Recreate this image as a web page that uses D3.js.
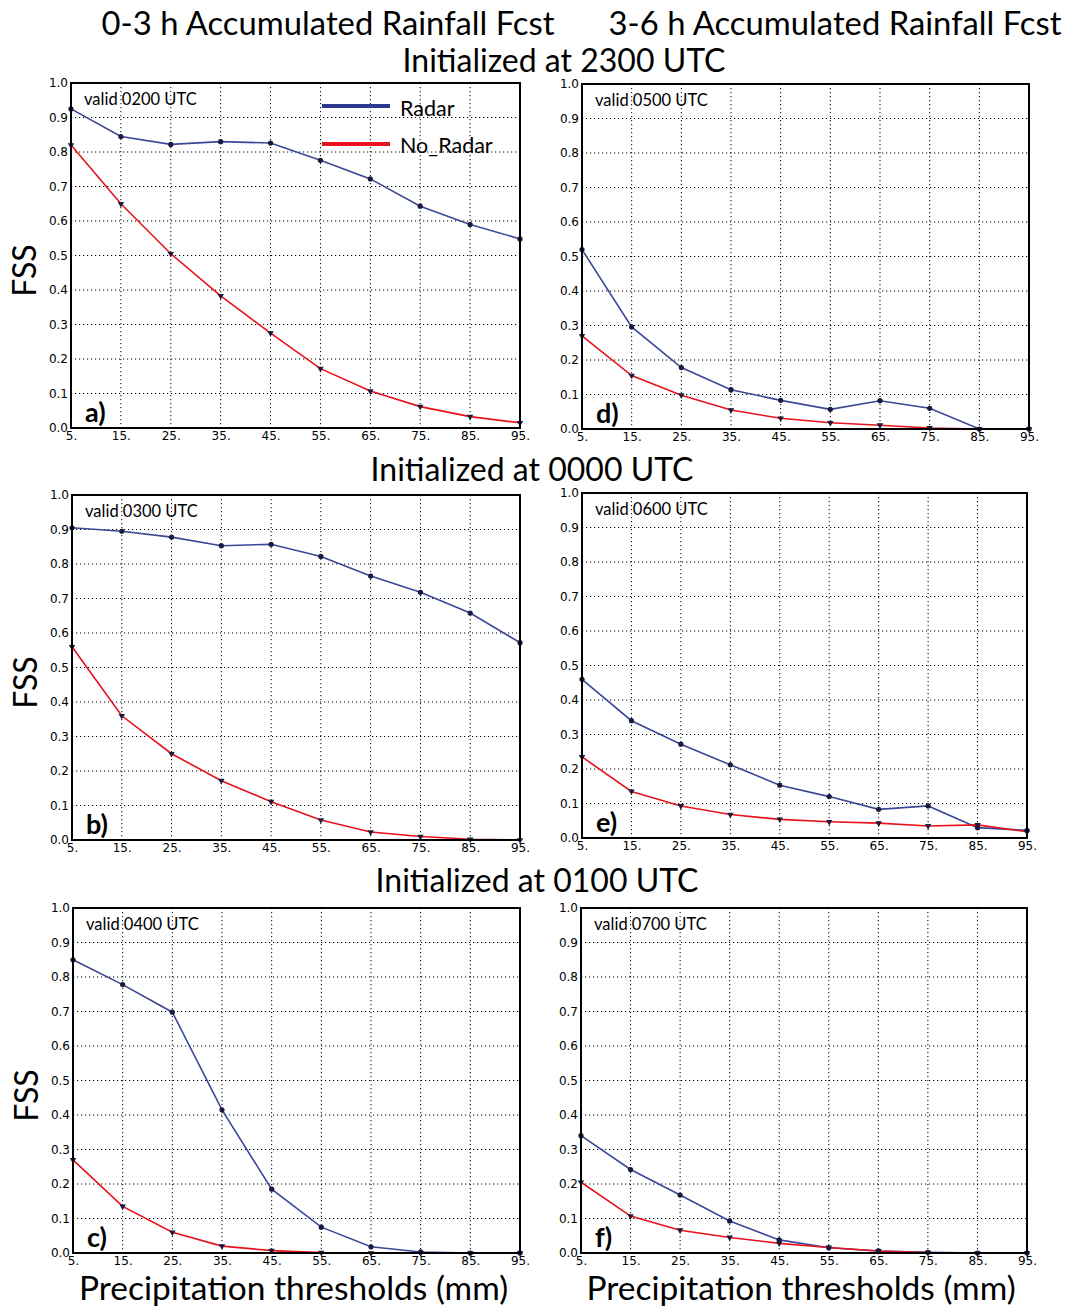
<!DOCTYPE html>
<html>
<head>
<meta charset="utf-8">
<script src="https://cdn.jsdelivr.net/npm/d3@7"></script>
<style>
  body { margin: 0; background: #fff; }
  text { font-family: Lato, "Open Sans", sans-serif; }
  .tick text { font-family: "DejaVu Sans", sans-serif; }
</style>
</head>
<body>
<script>
// thresholds (mm) and tick labels
const thresholds = [5, 15, 25, 35, 45, 55, 65, 75, 85, 95];
const xTickLabels = ["5.", "15.", "25.", "35.", "45.", "55.", "65.", "75.", "85.", "95."];
const yTicks = [0, 0.1, 0.2, 0.3, 0.4, 0.5, 0.6, 0.7, 0.8, 0.9, 1.0];

// FSS values
const radarA   = [0.925, 0.845, 0.822, 0.830, 0.826, 0.776, 0.722, 0.643, 0.590, 0.548];
const noRadarA = [0.820, 0.650, 0.505, 0.383, 0.275, 0.172, 0.107, 0.062, 0.033, 0.015];
const radarB   = [0.905, 0.895, 0.878, 0.853, 0.857, 0.822, 0.765, 0.718, 0.658, 0.572];
const noRadarB = [0.560, 0.360, 0.250, 0.172, 0.111, 0.058, 0.023, 0.010, 0.002, 0.000];
const radarC   = [0.850, 0.778, 0.698, 0.415, 0.185, 0.075, 0.018, 0.003, 0.000, 0.000];
const noRadarC = [0.270, 0.135, 0.060, 0.020, 0.007, 0.001, 0.000, 0.000, 0.000, 0.000];
const radarD   = [0.520, 0.296, 0.178, 0.114, 0.083, 0.057, 0.082, 0.060, 0.000, 0.000];
const noRadarD = [0.270, 0.155, 0.098, 0.055, 0.031, 0.018, 0.011, 0.003, 0.000, 0.000];
const radarE   = [0.460, 0.340, 0.272, 0.212, 0.153, 0.120, 0.083, 0.093, 0.030, 0.022];
const noRadarE = [0.235, 0.135, 0.093, 0.068, 0.054, 0.047, 0.043, 0.035, 0.038, 0.018];
const radarF   = [0.340, 0.242, 0.168, 0.093, 0.038, 0.015, 0.006, 0.002, 0.000, 0.000];
const noRadarF = [0.205, 0.107, 0.066, 0.045, 0.028, 0.016, 0.006, 0.001, 0.000, 0.000];

const radarColor = '#3a4898';
const noRadarColor = '#e8121c';
const markerColor = '#1a1a3c';

const svg = d3.select("body").append("svg")
  .attr("width", 1066)
  .attr("height", 1310);

// column / row headings
svg.append('text').text('0-3 h Accumulated Rainfall Fcst').attr('x', 328).attr('y', 35)
  .attr('font-size', 32.8).attr('text-anchor', 'middle');
svg.append('text').text('3-6 h Accumulated Rainfall Fcst').attr('x', 835).attr('y', 35)
  .attr('font-size', 32.8).attr('text-anchor', 'middle');
svg.append('text').text('Initialized at 2300 UTC').attr('x', 564).attr('y', 72)
  .attr('font-size', 32).attr('text-anchor', 'middle');
svg.append('text').text('Initialized at 0000 UTC').attr('x', 532).attr('y', 481)
  .attr('font-size', 32).attr('text-anchor', 'middle');
svg.append('text').text('Initialized at 0100 UTC').attr('x', 537).attr('y', 892)
  .attr('font-size', 32).attr('text-anchor', 'middle');

const panels = [
  {x: 71,  y: 83,  w: 449, h: 345, radar: radarA, noRadar: noRadarA, valid: 'valid 0200 UTC', label: 'a)', fss: true,  legend: true},
  {x: 582, y: 84,  w: 447, h: 345, radar: radarD, noRadar: noRadarD, valid: 'valid 0500 UTC', label: 'd)'},
  {x: 72,  y: 495, w: 448, h: 345, radar: radarB, noRadar: noRadarB, valid: 'valid 0300 UTC', label: 'b)', fss: true},
  {x: 582, y: 493, w: 445, h: 345, radar: radarE, noRadar: noRadarE, valid: 'valid 0600 UTC', label: 'e)'},
  {x: 73,  y: 908, w: 447, h: 345, radar: radarC, noRadar: noRadarC, valid: 'valid 0400 UTC', label: 'c)', fss: true, xlab: true},
  {x: 581, y: 908, w: 446, h: 345, radar: radarF, noRadar: noRadarF, valid: 'valid 0700 UTC', label: 'f)', xlab: true}
];

panels.forEach(drawPanel);

function drawPanel(p) {
  const g = svg.append('g').attr('transform', 'translate(' + p.x + ',' + p.y + ')');
  const x = d3.scaleLinear().domain([5, 95]).range([0, p.w]);
  const y = d3.scaleLinear().domain([0, 1]).range([p.h, 0]);

  // dotted grid
  g.append('g').selectAll('line.vg').data(thresholds.slice(1, -1)).join('line')
    .attr('x1', d => x(d)).attr('x2', d => x(d)).attr('y1', 0).attr('y2', p.h)
    .attr('stroke', '#000').attr('stroke-width', 1).attr('stroke-dasharray', '1.2,2.8');
  g.append('g').selectAll('line.hg').data(yTicks.slice(1, -1)).join('line')
    .attr('x1', 0).attr('x2', p.w).attr('y1', d => y(d)).attr('y2', d => y(d))
    .attr('stroke', '#000').attr('stroke-width', 1).attr('stroke-dasharray', '1.2,2.8');

  // axes
  const xAxis = d3.axisBottom(x).tickValues(thresholds)
    .tickFormat((d, i) => xTickLabels[i]).tickSize(0).tickPadding(3);
  g.append('g').attr('transform', 'translate(0,' + p.h + ')').call(xAxis)
    .call(a => a.select('.domain').remove())
    .selectAll('text').attr('font-size', 12).attr('fill', '#000');
  const yAxis = d3.axisLeft(y).tickValues(yTicks).tickFormat(d3.format('.1f'))
    .tickSize(0).tickPadding(3);
  g.append('g').call(yAxis)
    .call(a => a.select('.domain').remove())
    .selectAll('text').attr('font-size', 12).attr('fill', '#000');

  // lines
  const line = d3.line().x((d, i) => x(thresholds[i])).y(d => y(d));
  g.append('path').datum(p.radar).attr('d', line)
    .attr('fill', 'none').attr('stroke', radarColor).attr('stroke-width', 1.6);
  g.append('path').datum(p.noRadar).attr('d', line)
    .attr('fill', 'none').attr('stroke', noRadarColor).attr('stroke-width', 1.6);

  // markers
  g.append('g').selectAll('circle').data(p.radar).join('circle')
    .attr('cx', (d, i) => x(thresholds[i])).attr('cy', d => y(d)).attr('r', 2.6)
    .attr('fill', markerColor);
  const tri = d3.symbol().type(d3.symbolTriangle).size(18);
  g.append('g').selectAll('path').data(p.noRadar).join('path')
    .attr('d', tri)
    .attr('transform', (d, i) => 'translate(' + x(thresholds[i]) + ',' + y(d) + ') rotate(180)')
    .attr('fill', markerColor);

  // frame
  g.append('rect').attr('width', p.w).attr('height', p.h)
    .attr('fill', 'none').attr('stroke', '#000').attr('stroke-width', 2);

  g.append('text').text(p.valid).attr('x', 13).attr('y', 22).attr('font-size', 16.5);
  g.append('text').text(p.label).attr('x', 14).attr('y', p.h - 6)
    .attr('font-size', 27).attr('font-weight', 'bold');

  if (p.legend) {
    g.append('line').attr('x1', 251).attr('x2', 319).attr('y1', 23).attr('y2', 23)
      .attr('stroke', '#2b3990').attr('stroke-width', 4);
    g.append('text').text('Radar').attr('x', 329).attr('y', 33).attr('font-size', 21.5);
    g.append('line').attr('x1', 251).attr('x2', 319).attr('y1', 61).attr('y2', 61)
      .attr('stroke', noRadarColor).attr('stroke-width', 4);
    g.append('text').text('No_Radar').attr('x', 329).attr('y', 70).attr('font-size', 21.5);
  }

  if (p.fss) {
    g.append('text').text('FSS').attr('font-size', 32).attr('text-anchor', 'middle')
      .attr('transform', 'translate(-35,' + (p.h / 2 + 15) + ') rotate(-90)');
  }
  if (p.xlab) {
    g.append('text').text('Precipitation thresholds (mm)').attr('x', p.w / 2 - 3).attr('y', p.h + 47)
      .attr('font-size', 33.5).attr('text-anchor', 'middle');
  }
}
</script>
</body>
</html>
